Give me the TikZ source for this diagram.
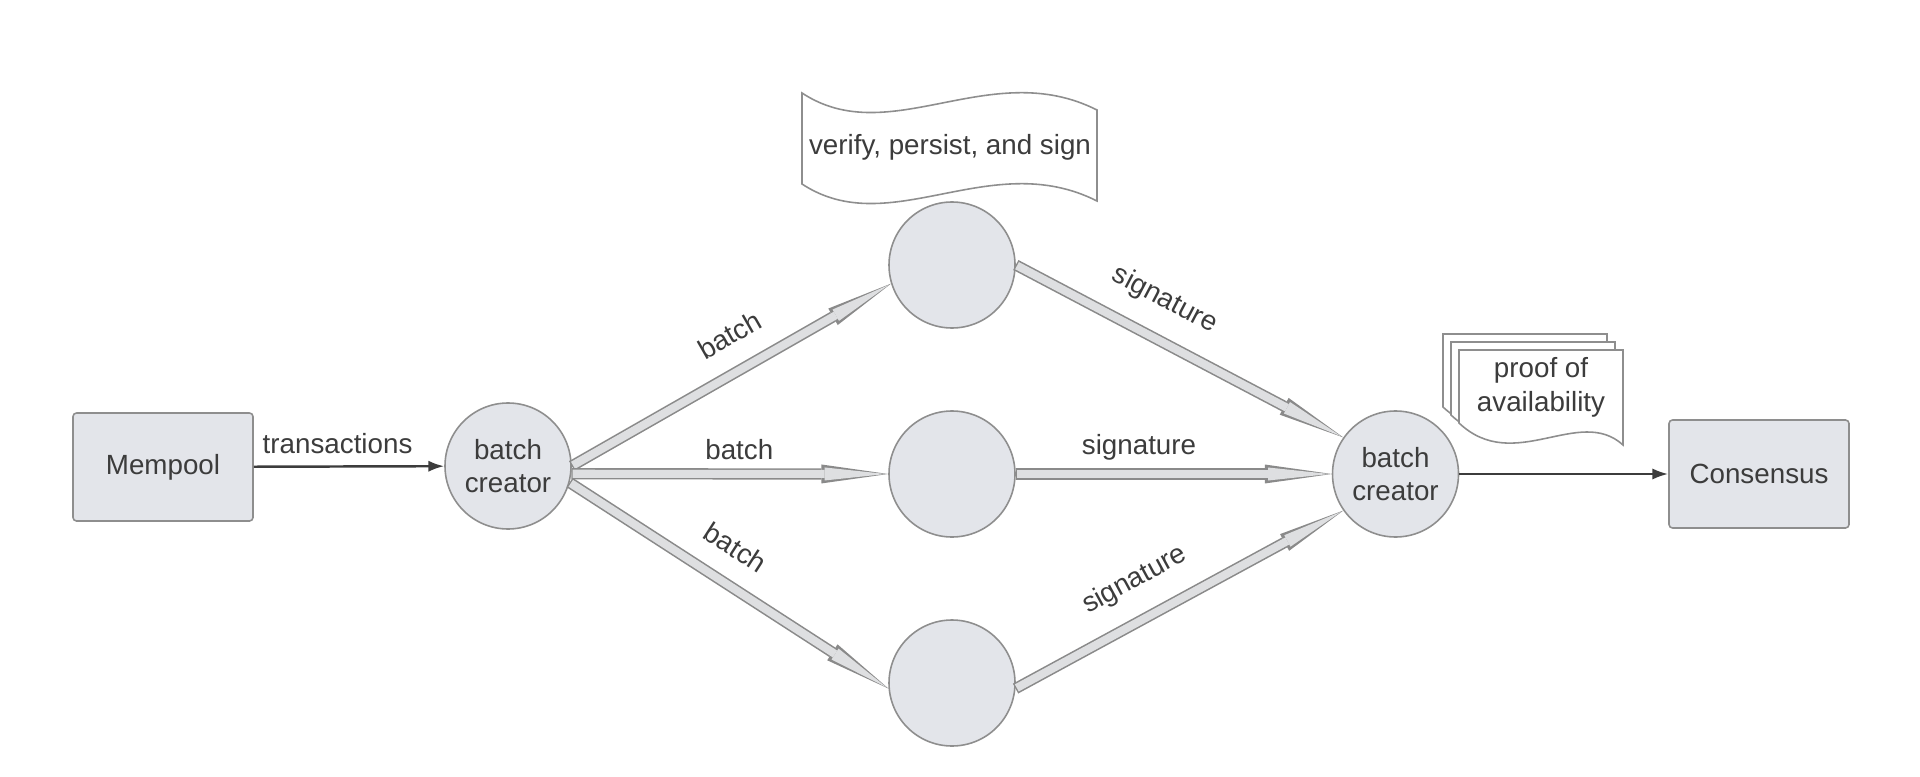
\documentclass[tikz,border=0pt]{standalone}
\usepackage{fontspec}
\setmainfont{Liberation Sans}
\usetikzlibrary{arrows.meta}

\definecolor{nodefill}{HTML}{E3E5EA}
\definecolor{nodeline}{HTML}{8E8E8E}
\definecolor{fatfill}{HTML}{DEDFE1}
\definecolor{fatline}{HTML}{8A8A8A}
\definecolor{txt}{HTML}{3C3C3C}

\tikzset{
  box/.style={draw=nodeline, fill=nodefill, rounded corners=1pt, line width=0.45pt, minimum width=1.80cm, minimum height=1.08cm},
  disc/.style={circle, draw=nodeline, fill=nodefill, line width=0.45pt, minimum size=1.26cm, inner sep=0pt, align=center},
  paper/.style={draw=nodeline, fill=white, line width=0.45pt},
  flow/.style={draw=txt, line width=0.7pt, -{Latex[length=4.5pt,width=3.2pt]}},
  fat/.style={draw=fatline, line width=3.2pt, -{Triangle[length=19pt,width=5.4pt,line width=0pt]},
    postaction={draw=fatfill, line width=2.3pt, -{Triangle[length=17.4pt,width=3.7pt,line width=0pt]}, shorten >=0.7pt, shorten <=0.4pt}},
  lbl/.style={above=2.3pt, sloped},
  lblmid/.style={above=-1pt}
}

\begin{document}
\begin{tikzpicture}[font=\fontsize{7.9}{9.6}\selectfont, text=txt]
\useasboundingbox (0,0) rectangle (19.20,7.76);

\node[box] (mempool) at (1.63,3.09) {Mempool};
\node[disc] (bc1) at (5.08,3.10) {batch\\creator};
\node[disc] (v1) at (9.52,5.11) {};
\node[disc] (v2) at (9.52,3.02) {};
\node[disc] (v3) at (9.52,0.93) {};
\node[disc] (bc2) at (13.955,3.02) {batch\\creator};
\node[box] (consensus) at (17.59,3.02) {Consensus};

% wavy note above the top signer
\draw[paper] (8.02,6.83) .. controls (8.9,6.25) and (9.9,7.2) .. (10.97,6.66) -- (10.97,5.75)
  .. controls (9.9,6.29) and (8.9,5.34) .. (8.02,5.92) -- cycle;
\node (vps) at (9.50,6.29) {verify, persist, and sign};

% stack of documents
\draw[paper, xshift=-1.6mm, yshift=1.6mm] (14.59,4.26) -- (16.23,4.26) -- (16.23,3.31)
  .. controls (15.79,3.71) and (15.14,3.01) .. (14.59,3.53) -- cycle;
\draw[paper, xshift=-0.8mm, yshift=0.8mm] (14.59,4.26) -- (16.23,4.26) -- (16.23,3.31)
  .. controls (15.79,3.71) and (15.14,3.01) .. (14.59,3.53) -- cycle;
\draw[paper] (14.59,4.26) -- (16.23,4.26) -- (16.23,3.31)
  .. controls (15.79,3.71) and (15.14,3.01) .. (14.59,3.53) -- cycle;
\node[align=center] (poa) at (15.41,3.89) {proof of\\availability};

\draw[flow] (mempool) -- node[above, pos=0.44] {transactions} (bc1);

\draw[fat] (bc1.east) -- node[lbl, pos=0.55] {batch} (v1.197);
\draw[fat] (bc1.-7) -- node[lblmid, pos=0.53] {batch} (v2.west);
\draw[fat] (bc1.-15) -- node[lbl, pos=0.46] {batch} (v3.185);

\draw[fat] (v1.east) -- node[lbl, pos=0.40] {signature} (bc2.145);
\draw[fat] (v2.east) -- node[lblmid, pos=0.39] {signature} (bc2.west);
\draw[fat] (v3.-5) -- node[lbl, pos=0.42] {signature} (bc2.215);

\draw[flow] (bc2) -- (consensus);
\end{tikzpicture}
\end{document}
